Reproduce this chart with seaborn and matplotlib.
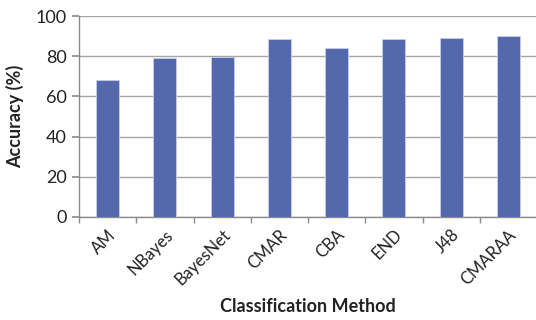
import matplotlib
matplotlib.use("Agg")
import matplotlib.pyplot as plt
import seaborn as sns
import pandas as pd
import numpy as np

methods = ["AM", "NBayes", "BayesNet", "CMAR", "CBA", "END", "J48", "CMARAA"]
accuracy = [68.0, 79.0, 79.4, 88.4, 84.1, 88.7, 89.2, 90.0]

sns.set_theme(style="white")
plt.rcParams['font.family'] = ['Lato', 'DejaVu Sans']

df = pd.DataFrame({"Method": methods, "Accuracy": accuracy})

fig = plt.figure(figsize=(5.36, 3.2), dpi=100)
ax = fig.add_axes([0.1474, 0.3219, 0.8545, 0.628])
sns.barplot(data=df, x="Method", y="Accuracy", color="#5468AE", saturation=1,
            width=0.4, edgecolor="#C9D0E6", linewidth=0.6, ax=ax, zorder=3)

ax.set_ylim(0, 100)
ax.set_xlim(-0.5, len(methods) - 0.5)
ax.set_yticks([0, 20, 40, 60, 80, 100])
ax.yaxis.grid(True, color="#A6A6A6", linewidth=1.0, zorder=0)
ax.set_axisbelow(True)

for s in ["top", "right"]:
    ax.spines[s].set_visible(False)
for s in ["left", "bottom"]:
    ax.spines[s].set_color("#8C8C8C")
    ax.spines[s].set_linewidth(1.0)

ax.set_xticks(np.arange(len(methods)))
ax.set_xticks(np.arange(len(methods) + 1) - 0.5, minor=True)
ax.set_xticklabels(methods, rotation=45, ha="right", rotation_mode="anchor", fontsize=12, color="#222222")
ax.tick_params(axis="x", which="major", length=0, pad=7)
ax.tick_params(axis="x", which="minor", length=4, color="#8C8C8C", direction="out", bottom=True)
ax.tick_params(axis="y", length=5, color="#8C8C8C", direction="out", left=True, labelsize=13, labelcolor="#222222", pad=4)

ax.set_ylabel("Accuracy (%)", fontsize=13, fontweight="bold", color="#222222", labelpad=8)
ax.set_xlabel("Classification Method", fontsize=13, fontweight="bold", color="#222222", labelpad=7)

fig.savefig("out.png", dpi=100)
